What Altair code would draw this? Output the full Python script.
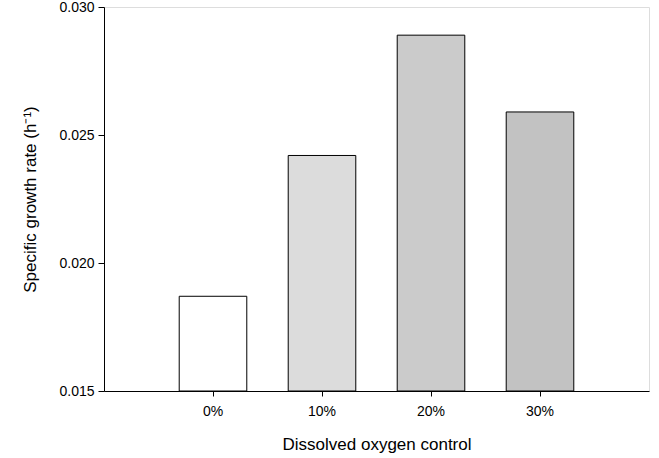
import altair as alt
import pandas as pd

categories = ["0%", "10%", "20%", "30%"]
growth_rate = [0.0187, 0.0242, 0.0289, 0.0259]
fills = ["#ffffff", "#dcdcdc", "#cbcbcb", "#c2c2c2"]
y_ticks = [0.015, 0.020, 0.025, 0.030]

df = pd.DataFrame({"cat": categories, "rate": growth_rate, "fill": fills})

FONT = "Liberation Sans"

bars = alt.Chart(df).mark_bar(stroke="black", strokeWidth=1).encode(
    x=alt.X("cat:N", sort=categories,
            scale=alt.Scale(paddingInner=0.38, paddingOuter=0.69),
            axis=alt.Axis(title="Dissolved oxygen control", labelAngle=0,
                          labelFontSize=14, titleFontSize=17, titleFontWeight="normal",
                          tickSize=5, labelPadding=8, titlePadding=18,
                          domainColor="black", tickColor="black",
                          labelColor="black", titleColor="black")),
    y=alt.Y("rate:Q",
            scale=alt.Scale(domain=[0.015, 0.030], zero=False, nice=False),
            axis=alt.Axis(title="Specific growth rate (h⁻¹)", values=y_ticks,
                          format=".3f", grid=False, labelFontSize=14,
                          titleFontSize=17, titleFontWeight="normal",
                          tickSize=6, labelPadding=4, titlePadding=19,
                          domainColor="black", tickColor="black",
                          labelColor="black", titleColor="black")),
    y2=alt.datum(0.015),
    fill=alt.Fill("fill:N", scale=None),
)

chart = bars.properties(
    width=545, height=384,
    padding={"left": 104, "top": 7, "right": 10, "bottom": 67},
    autosize=alt.AutoSizeParams(type="none"),
).configure_view(stroke="black", strokeWidth=1).configure(
    font=FONT, background="white"
)

chart.save("out.html", embed_options={"renderer": "svg", "actions": False})
